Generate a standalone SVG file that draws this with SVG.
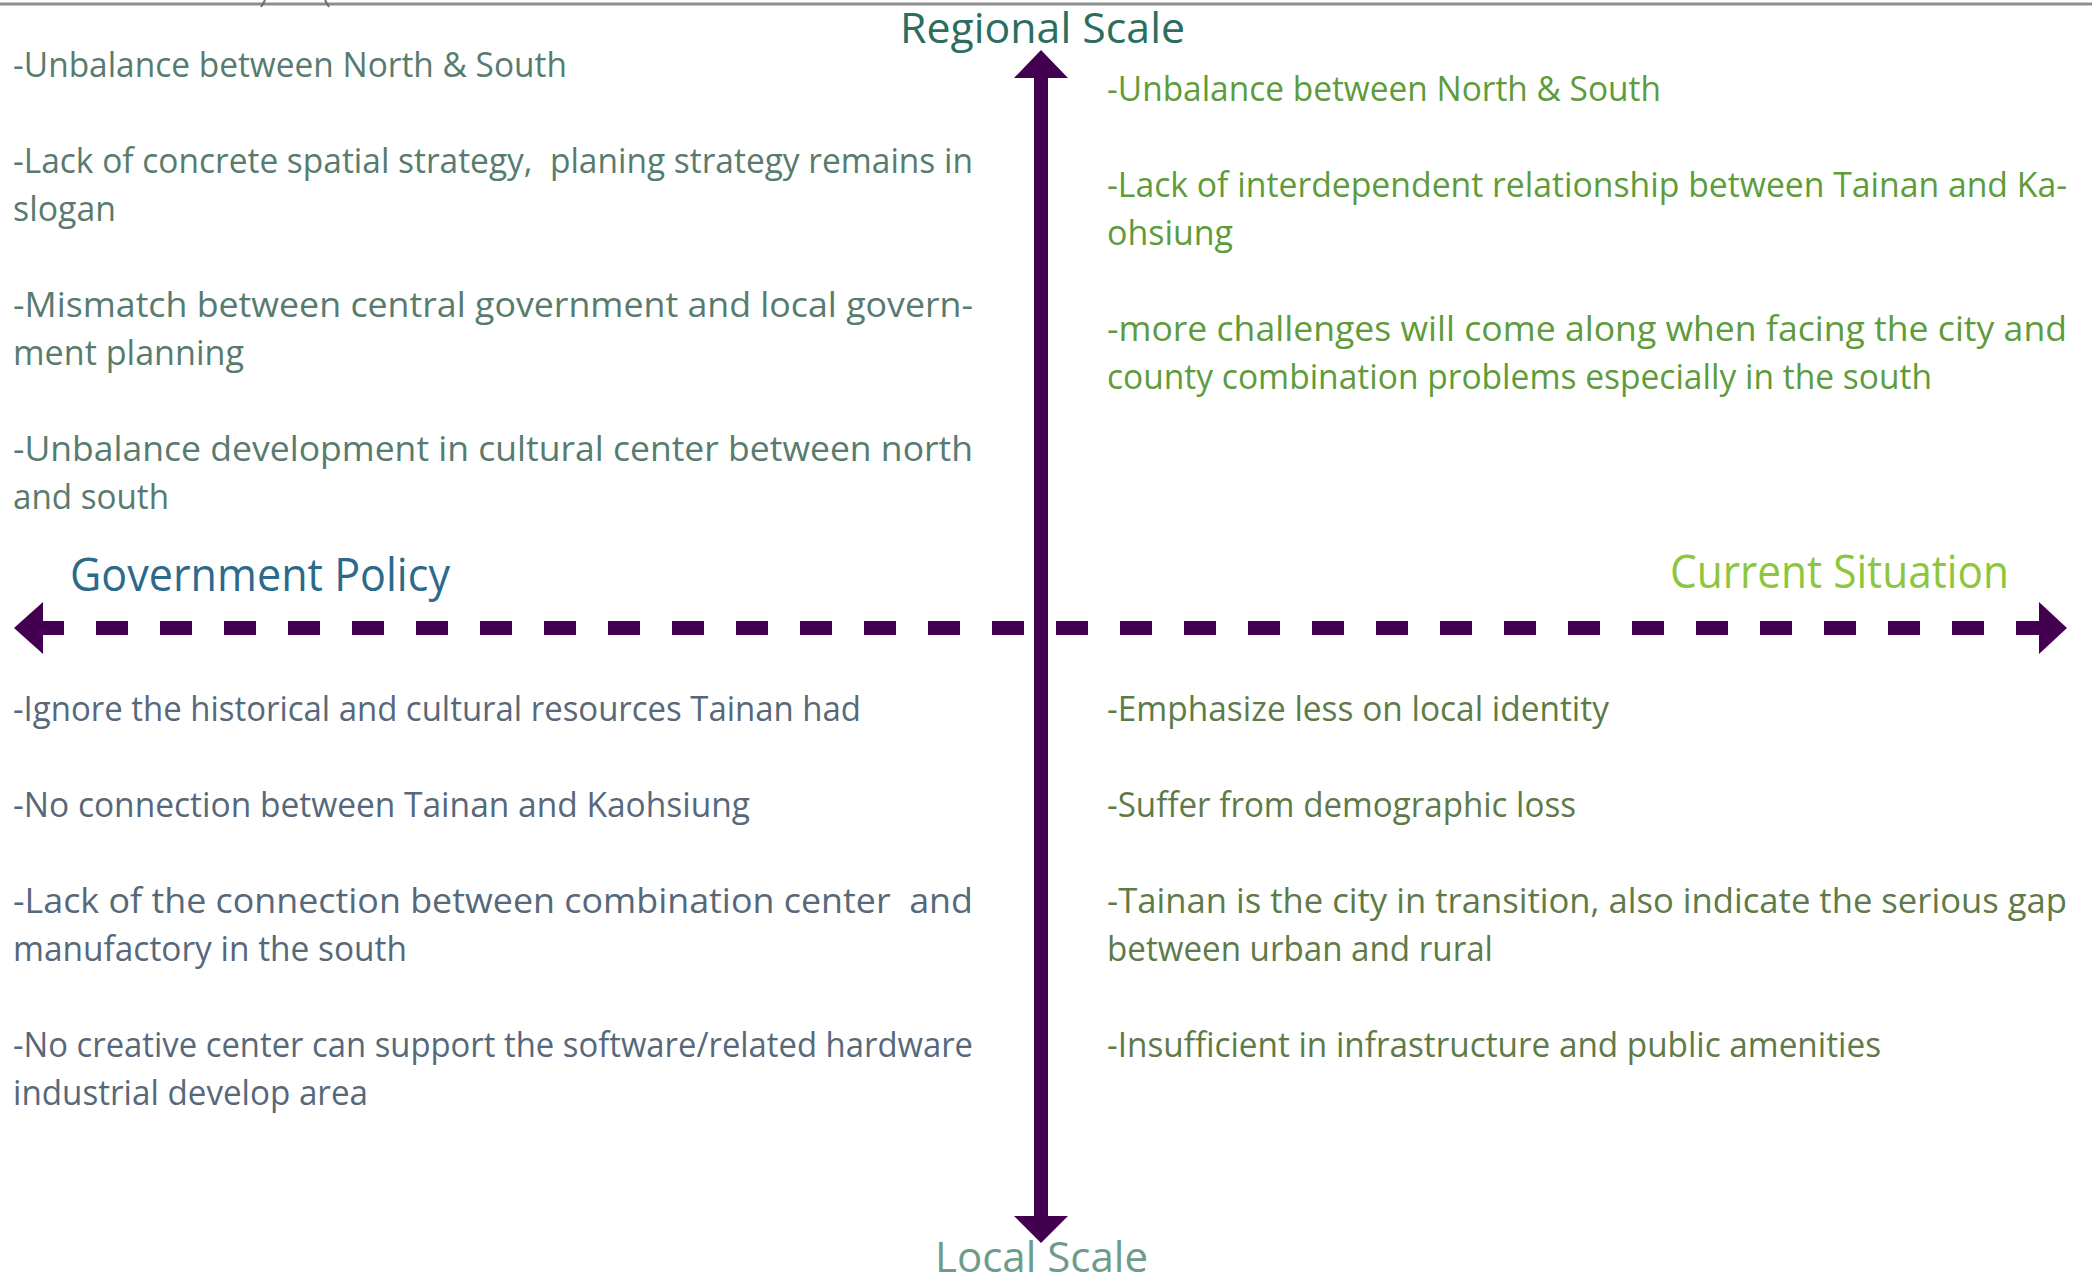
<svg xmlns="http://www.w3.org/2000/svg" width="2092" height="1280" viewBox="0 0 2092 1280">
<style>
text { font-family: "Open Sans", "Noto Sans", "DejaVu Sans", sans-serif; }
.body { font-size: 35px; }
.lt { fill: #577b6e; }
.rt { fill: #5e9b3b; }
.lb { fill: #56687a; }
.rb { fill: #5e7a48; }
.head { font-size: 42px; }
.axis { stroke: #430050; stroke-width: 14; fill: none; }
.tip { fill: #430050; }
</style>
<rect x="0" y="0" width="2092" height="1280" fill="#ffffff"/>
<g id="frame">
<line x1="0" y1="4" x2="2092" y2="4" stroke="#8e8e8e" stroke-width="3"/>
<path d="M265 0 Q263 4 261 7 M325 0 Q327 4 329 7" stroke="#6e6e6e" stroke-width="2" fill="none"/>
</g>
<g id="connectors">
<line class="axis" x1="32" y1="628" x2="2048" y2="628" stroke-dasharray="32 32"/>
<polygon class="tip" points="14,628 43,602 43,654"/>
<polygon class="tip" points="2067,628 2039,602 2039,654"/>
<line class="axis" x1="1041" y1="74" x2="1041" y2="1220"/>
<polygon class="tip" points="1041,50 1068,78 1014,78"/>
<polygon class="tip" points="1041,1243 1068,1216 1014,1216"/>
</g>
<g id="label-regional">
<text class="head" x="900" y="43" fill="#2b6d5f" textLength="285" lengthAdjust="spacingAndGlyphs">Regional Scale</text>
</g>
<g id="label-local">
<text class="head" x="935" y="1272" fill="#6d9c8b" textLength="213" lengthAdjust="spacingAndGlyphs">Local Scale</text>
</g>
<g id="label-government">
<text x="70" y="591" font-size="46" fill="#2c6a8c" textLength="380" lengthAdjust="spacingAndGlyphs">Government Policy</text>
</g>
<g id="label-current">
<text x="1670" y="588" font-size="45" fill="#8cc63e" textLength="339" lengthAdjust="spacingAndGlyphs">Current Situation</text>
</g>
<g id="policy-regional">
<text class="body lt" x="13" y="77" textLength="554" lengthAdjust="spacingAndGlyphs">-Unbalance between North &amp; South</text>
<text class="body lt" x="13" y="173" textLength="960" lengthAdjust="spacingAndGlyphs" xml:space="preserve">-Lack of concrete spatial strategy,  planing strategy remains in</text>
<text class="body lt" x="13" y="221" textLength="103" lengthAdjust="spacingAndGlyphs">slogan</text>
<text class="body lt" x="13" y="317" textLength="960" lengthAdjust="spacingAndGlyphs">-Mismatch between central government and local govern-</text>
<text class="body lt" x="13" y="365" textLength="231" lengthAdjust="spacingAndGlyphs">ment planning</text>
<text class="body lt" x="13" y="461" textLength="960" lengthAdjust="spacingAndGlyphs">-Unbalance development in cultural center between north</text>
<text class="body lt" x="13" y="509" textLength="156" lengthAdjust="spacingAndGlyphs">and south</text>
</g>
<g id="situation-regional">
<text class="body rt" x="1107" y="101" textLength="554" lengthAdjust="spacingAndGlyphs">-Unbalance between North &amp; South</text>
<text class="body rt" x="2067" y="197" text-anchor="end" textLength="960" lengthAdjust="spacingAndGlyphs">-Lack of interdependent relationship between Tainan and Ka-</text>
<text class="body rt" x="1107" y="245" textLength="126" lengthAdjust="spacingAndGlyphs">ohsiung</text>
<text class="body rt" x="2067" y="341" text-anchor="end" textLength="960" lengthAdjust="spacingAndGlyphs">-more challenges will come along when facing the city and</text>
<text class="body rt" x="1107" y="389" textLength="825" lengthAdjust="spacingAndGlyphs">county combination problems especially in the south</text>
</g>
<g id="policy-local">
<text class="body lb" x="13" y="721" textLength="848" lengthAdjust="spacingAndGlyphs">-Ignore the historical and cultural resources Tainan had</text>
<text class="body lb" x="13" y="817" textLength="737" lengthAdjust="spacingAndGlyphs">-No connection between Tainan and Kaohsiung</text>
<text class="body lb" x="13" y="913" textLength="960" lengthAdjust="spacingAndGlyphs" xml:space="preserve">-Lack of the connection between combination center  and</text>
<text class="body lb" x="13" y="961" textLength="394" lengthAdjust="spacingAndGlyphs">manufactory in the south</text>
<text class="body lb" x="13" y="1057" textLength="960" lengthAdjust="spacingAndGlyphs">-No creative center can support the software/related hardware</text>
<text class="body lb" x="13" y="1105" textLength="355" lengthAdjust="spacingAndGlyphs">industrial develop area</text>
</g>
<g id="situation-local">
<text class="body rb" x="1107" y="721" textLength="502" lengthAdjust="spacingAndGlyphs">-Emphasize less on local identity</text>
<text class="body rb" x="1107" y="817" textLength="469" lengthAdjust="spacingAndGlyphs">-Suffer from demographic loss</text>
<text class="body rb" x="2067" y="913" text-anchor="end" textLength="960" lengthAdjust="spacingAndGlyphs">-Tainan is the city in transition, also indicate the serious gap</text>
<text class="body rb" x="1107" y="961" textLength="386" lengthAdjust="spacingAndGlyphs">between urban and rural</text>
<text class="body rb" x="1107" y="1057" textLength="774" lengthAdjust="spacingAndGlyphs">-Insufficient in infrastructure and public amenities</text>
</g>
</svg>
